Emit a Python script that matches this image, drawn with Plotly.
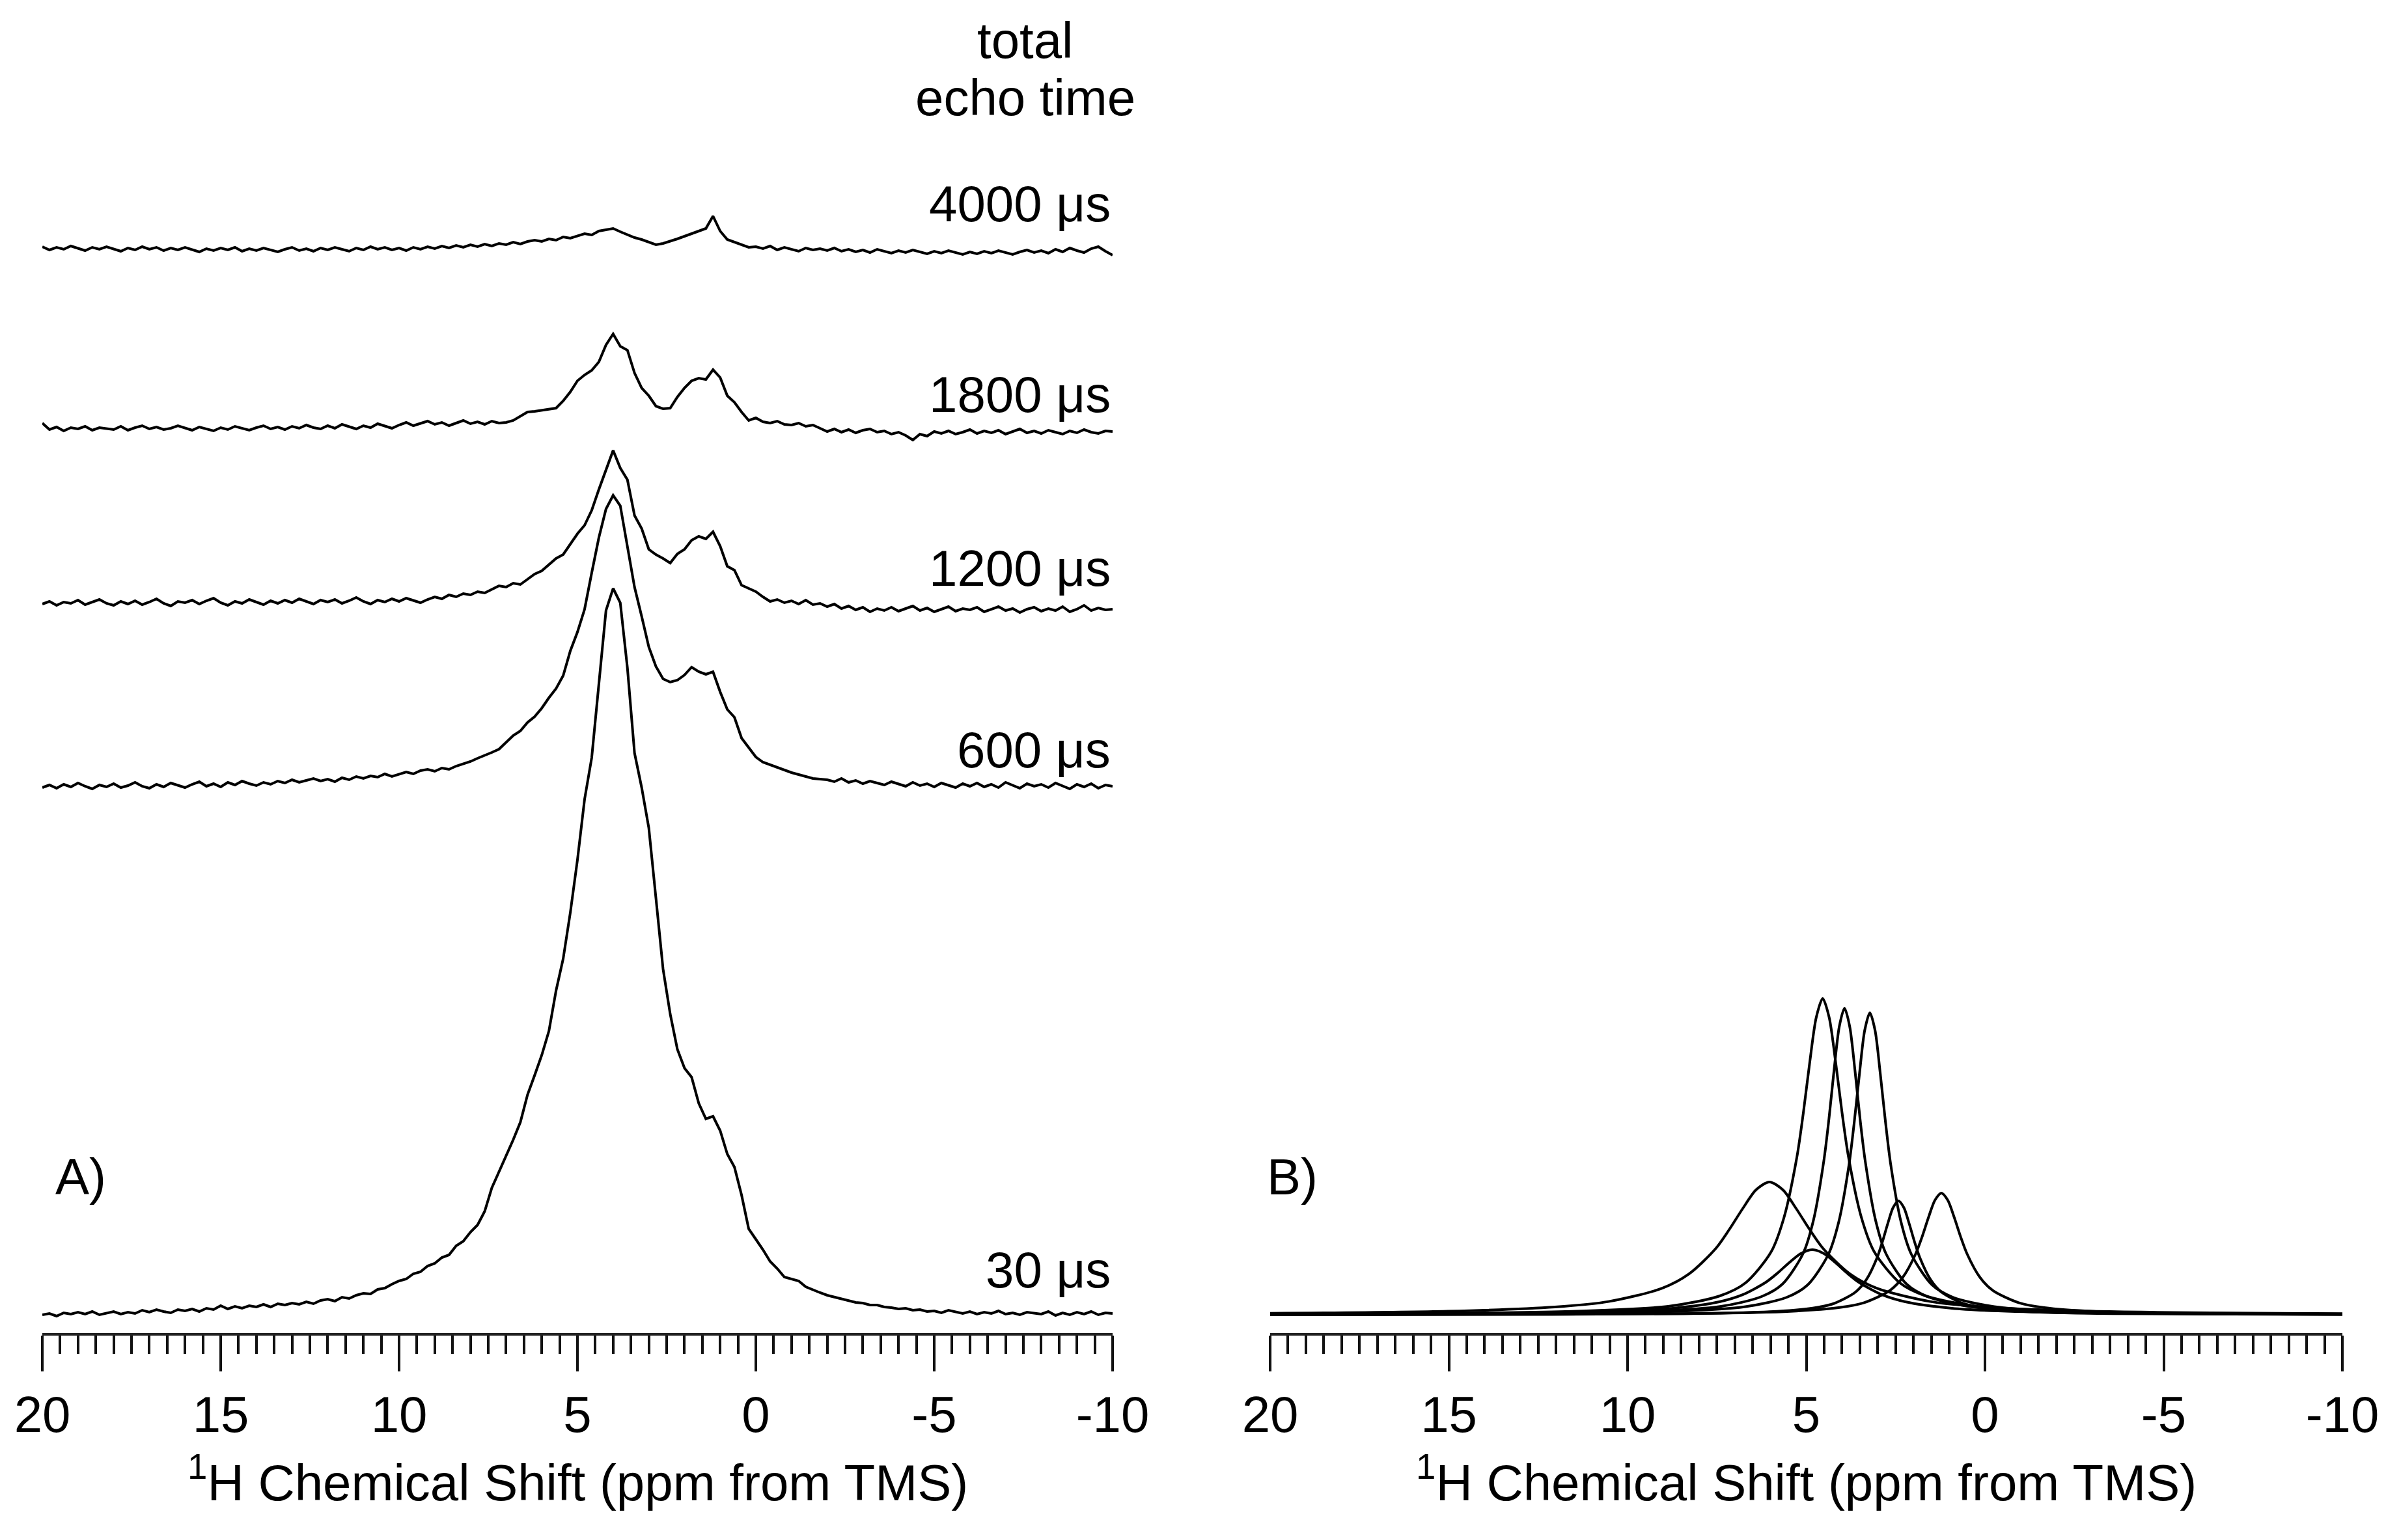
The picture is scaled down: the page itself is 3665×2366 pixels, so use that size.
import plotly.graph_objects as go

# ---------------- data ----------------
# chemical-shift sampling grid (ppm), 20 -> -10 in 0.2 ppm steps
PPM = [round(20 - 0.2 * i, 1) for i in range(151)]

ECHO_LABELS = ["30 μs", "600 μs", "1200 μs", "1800 μs", "4000 μs"]
# vertical stacking offsets of the spectra (plot units)
OFFSETS = [28, 840, 1115, 1390, 1665]

S30 = [0, 2, -2, 3, 1, 4, 1, 5, 0, 3,
       5, 1, 4, 2, 7, 4, 8, 5, 3, 8,
       6, 9, 5, 10, 8, 14, 9, 13, 10, 14,
       12, 16, 12, 17, 15, 18, 16, 20, 17, 22,
       24, 21, 27, 25, 30, 33, 32, 39, 41, 47,
       52, 55, 63, 66, 75, 79, 88, 92, 106, 113,
       127, 138, 159, 195, 219, 244, 269, 296, 338, 368,
       399, 436, 498, 547, 618, 699, 792, 856, 973, 1082,
       1116, 1094, 994, 863, 810, 748, 640, 531, 462, 408,
       379, 365, 325, 301, 305, 283, 247, 227, 184, 132,
       116, 100, 82, 71, 58, 55, 52, 43, 38, 34,
       30, 27, 24, 22, 19, 18, 15, 15, 12, 11,
       9, 10, 7, 8, 5, 6, 3, 7, 4, 2,
       5, 1, 4, 2, 6, 1, 3, 0, 4, 2,
       1, 5, -1, 3, 0, 4, 1, 5, 0, 3,
       2]

S600 = [-2, 2, -3, 3, -1, 5, 0, -4, 2, -1,
        4, -2, 1, 6, 0, -3, 3, -1, 5, 1,
        -2, 3, 7, 0, 4, -1, 6, 2, 8, 4,
        1, 6, 3, 8, 5, 10, 6, 9, 12, 8,
        11, 7, 13, 10, 15, 12, 16, 14, 19, 15,
        18, 22, 19, 24, 26, 23, 28, 26, 31, 34,
        38, 43, 47, 52, 57, 68, 78, 85, 98, 107,
        120, 136, 150, 170, 208, 237, 272, 328, 382, 426,
        447, 431, 367, 306, 261, 214, 184, 165, 160, 163,
        171, 183, 176, 172, 176, 145, 118, 106, 74, 60,
        45, 37, 33, 28, 25, 21, 18, 15, 12, 11,
        10, 7, 12, 6, 9, 4, 8, 5, 2, 7,
        3, 0, 6, 1, 4, -1, 5, 2, -2, 4,
        0, 5, -1, 3, -2, 6, 1, -3, 4, 0,
        3, -2, 5, 0, -4, 3, -1, 4, -3, 2,
        0]

S1200 = [5, 9, 3, 8, 6, 11, 4, 8, 12, 6,
         3, 9, 5, 10, 4, 8, 13, 6, 2, 9,
         7, 11, 5, 10, 14, 7, 3, 9, 6, 12,
         8, 4, 10, 6, 11, 7, 13, 9, 5, 11,
         8, 12, 6, 10, 15, 9, 5, 11, 8, 13,
         9, 14, 10, 7, 12, 16, 13, 19, 16, 21,
         19, 24, 22, 27, 33, 31, 37, 35, 43, 51,
         56, 66, 75, 81, 97, 113, 126, 149, 181, 212,
         241, 214, 196, 141, 121, 89, 81, 75, 68, 82,
         89, 103, 109, 105, 116, 94, 63, 57, 34, 29,
         24, 16, 9, 12, 7, 10, 5, 11, 4, 6,
         1, 5, -2, 2, -4, 0, -7, -2, -5, 0,
         -6, -2, 2, -5, -1, -7, -3, 1, -6, -2,
         -4, 0, -7, -3, 1, -5, -2, -8, -3, 0,
         -6, -2, -5, 1, -7, -3, 3, -5, -1, -4,
         -3]

S1800 = [8, -2, 2, -4, 1, -1, 3, -3, 1, 0,
         -2, 3, -3, 1, 4, -1, 2, -2, 0, 4,
         0, -3, 2, -1, -4, 1, -2, 3, 0, -3,
         1, 4, -1, 2, -2, 3, 0, 5, 1, -1,
         4, 0, 6, 2, -1, 4, 1, 7, 3, 0,
         5, 9, 4, 7, 11, 6, 9, 4, 8, 12,
         7, 10, 6, 11, 8, 9, 12, 18, 25, 26,
         28, 30, 31, 42, 56, 73, 82, 89, 102, 128,
         145, 126, 120, 85, 62, 50, 34, 30, 31, 48,
         62, 73, 77, 75, 90, 78, 50, 40, 25, 12,
         16, 10, 8, 11, 6, 5, 8, 3, 5, 0,
         -5, -1, -6, -2, -7, -3, -1, -6, -4, -9,
         -6, -11, -18, -9, -12, -5, -8, -4, -9, -6,
         -2, -8, -4, -7, -3, -9, -5, -1, -7, -4,
         -8, -3, -6, -9, -4, -7, -2, -6, -8, -4,
         -5]

S4000 = [4, -1, 3, 0, 5, 1, -2, 3, 0, 4,
         1, -3, 2, -1, 4, 0, 3, -2, 2, -1,
         3, 0, -4, 1, -2, 2, -1, 3, -3, 1,
         -2, 2, -1, -4, 0, 3, -2, 1, -3, 2,
         -1, 3, 0, -3, 2, -1, 4, 0, 3, -1,
         2, -2, 3, 0, 4, 1, 5, 2, 6, 3,
         7, 4, 8, 5, 9, 7, 11, 8, 12, 14,
         12, 16, 14, 19, 17, 21, 24, 22, 28, 30,
         32, 27, 22, 18, 15, 11, 7, 9, 12, 16,
         20, 24, 27, 32, 51, 28, 15, 11, 6, 3,
         4, 1, 5, -1, 3, 0, -3, 2, -1, 1,
         -2, 2, -3, 0, -4, -1, -5, 0, -3, -6,
         -2, -5, -1, -4, -7, -3, -6, -2, -5, -8,
         -4, -7, -3, -6, -2, -5, -8, -4, -1, -5,
         -2, -6, 0, -4, 2, -2, -5, 1, 4, -3,
         -9]

SPECTRA = [S30, S600, S1200, S1800, S4000]

# panel B: fitted line components (ppm, intensity)
B_BASE = 28
C1_X = [20, 11.74, 8.86, 7.42, 6.70, 5.98, 5.62, 5.26, 5.08, 4.90, 4.72, 4.54, 4.36, 4.18, 4.00, 3.82, 3.46, 3.10, 2.38, 1.66, 0.22, -2.66, -10]
C1_Y = [1.0, 5, 13, 29, 49, 97, 150, 243, 311, 389, 457, 486, 457, 389, 311, 243, 150, 97, 49, 29, 13, 5, 1.2]
C2_X = [20, 9.73, 7.41, 6.25, 5.67, 5.09, 4.80, 4.51, 4.365, 4.22, 4.075, 3.93, 3.785, 3.64, 3.495, 3.35, 3.06, 2.77, 2.19, 1.61, 0.45, -1.87, -10]
C2_Y = [0.6, 4.7, 12.7, 28, 47, 94, 145, 236, 301, 377, 443, 471, 443, 377, 301, 236, 145, 94, 47, 28, 12.7, 4.7, 0.8]
C3_X = [20, 9.02, 6.70, 5.54, 4.96, 4.38, 4.09, 3.80, 3.655, 3.51, 3.365, 3.22, 3.075, 2.93, 2.785, 2.64, 2.35, 2.06, 1.48, 0.90, -0.26, -2.58, -10]
C3_Y = [0.55, 4.6, 12.5, 27, 46, 93, 143, 232, 297, 371, 437, 464, 437, 371, 297, 232, 143, 93, 46, 27, 12.5, 4.6, 0.9]
C4_X = [20, 15.03, 12.03, 10.53, 9.03, 8.28, 7.53, 7.155, 6.78, 6.405, 6.03, 5.655, 5.28, 4.905, 4.53, 3.78, 3.03, 1.53, 0.03, -2.97, -10]
C4_Y = [2.3, 5.5, 12.0, 20.4, 40.8, 62.8, 102, 131, 163, 192, 204, 192, 163, 131, 102, 62.8, 40.8, 20.4, 12.0, 5.5, 1.8]
C5_X = [20, 17.83, 12.63, 10.03, 8.73, 7.43, 6.78, 6.13, 5.805, 5.48, 5.155, 4.83, 4.505, 4.18, 3.855, 3.53, 2.88, 2.23, 0.93, -0.37, -2.97, -8.17, -10]
C5_Y = [0.73, 1.0, 2.7, 5.9, 10, 20, 30.8, 50, 64, 80, 94.1, 100, 94.1, 80, 64, 50, 30.8, 20, 10, 5.9, 2.7, 1.0, 0.76]
C6_X = [20, 14.42, 8.42, 6.02, 4.82, 4.22, 3.62, 3.32, 3.02, 2.87, 2.72, 2.57, 2.42, 2.27, 2.12, 1.97, 1.82, 1.52, 1.22, 0.62, 0.02, -1.18, -3.58, -10]
C6_Y = [0.2, 0.44, 1.7, 4.7, 10.3, 17.5, 35, 53.8, 87.5, 112, 140, 164.7, 175, 164.7, 140, 112, 87.5, 53.8, 35, 17.5, 10.3, 4.7, 1.7, 0.41]
C7_X = [20, 15.62, 8.42, 5.54, 4.10, 3.38, 2.66, 2.30, 1.94, 1.76, 1.58, 1.40, 1.22, 1.04, 0.86, 0.68, 0.50, 0.14, -0.22, -0.94, -1.66, -3.10, -5.98, -10]
C7_Y = [0.27, 0.47, 1.85, 5.05, 11.0, 18.7, 37.4, 57.5, 93.5, 119.7, 149.6, 176, 187, 176, 149.6, 119.7, 93.5, 57.5, 37.4, 18.7, 11.0, 5.05, 1.85, 0.77]
COMPONENTS = [(C1_X, C1_Y), (C2_X, C2_Y), (C3_X, C3_Y), (C4_X, C4_Y),
              (C5_X, C5_Y), (C6_X, C6_Y), (C7_X, C7_Y)]

MAJOR_TICKS = [20, 15, 10, 5, 0, -5, -10]
MAJOR_TEXT = ["20", "15", "10", "5", "0", "-5", "-10"]
MID_TICKS = list(range(20, -11, -1))
AXIS_TITLE = "<sup>1</sup>H Chemical Shift (ppm from TMS)"

# ---------------- figure ----------------
W, H = 3665, 2366
FONT = "Liberation Sans, Arial, Helvetica, sans-serif"
INK = "black"
LW = 4.0

fig = go.Figure()
for spec, off in zip(SPECTRA, OFFSETS):
    fig.add_trace(go.Scatter(x=PPM, y=[v + off for v in spec], mode="lines",
                             line=dict(color=INK, width=LW),
                             xaxis="x", yaxis="y", showlegend=False, hoverinfo="skip"))
for cx, cy in COMPONENTS:
    fig.add_trace(go.Scatter(x=cx, y=[v + B_BASE for v in cy], mode="lines",
                             line=dict(color=INK, width=LW, shape="spline", smoothing=0.8),
                             xaxis="x2", yaxis="y2", showlegend=False, hoverinfo="skip"))

dA = [57 / W, 1701 / W]
dB = [1943 / W, 3590 / W]

def main_axis(domain, anchor):
    return dict(domain=domain, anchor=anchor, range=[20, -10], autorange=False,
                showline=True, linewidth=3.5, linecolor="#222",
                ticks="outside", ticklen=55, tickwidth=3.5, tickcolor="#111",
                tickmode="array", tickvals=MAJOR_TICKS, ticktext=MAJOR_TEXT,
                tickfont=dict(family=FONT, size=78, color=INK),
                minor=dict(dtick=0.5, tick0=0, ticks="outside", ticklen=28,
                           tickwidth=3.5, tickcolor="#111", showgrid=False),
                showgrid=False, zeroline=False, automargin=False, fixedrange=True)

def mid_axis(over, anchor):
    return dict(overlaying=over, anchor=anchor, range=[20, -10], autorange=False,
                side="bottom", showline=False, ticks="outside", ticklen=42,
                tickwidth=3.5, tickcolor="#111", tickmode="array", tickvals=MID_TICKS,
                showticklabels=False, showgrid=False, zeroline=False, automargin=False)

fig.update_layout(
    width=W, height=H,
    margin=dict(l=0, r=0, t=40, b=326, autoexpand=False),
    paper_bgcolor="white", plot_bgcolor="white",
    font=dict(family=FONT, size=78, color=INK),
    xaxis=main_axis(dA, "y"),
    xaxis2=main_axis(dB, "y2"),
    xaxis3=mid_axis("x", "y"),
    xaxis4=mid_axis("x2", "y2"),
    yaxis=dict(domain=[0, 1], anchor="x", range=[0, 2000], visible=False, fixedrange=True),
    yaxis2=dict(domain=[0, 1], anchor="x2", range=[0, 2000], visible=False, fixedrange=True),
)

ann = []
# echo-time header and labels (panel A)
ann.append(dict(text="total", x=-7.55, y=1986, xref="x", yref="y",
                xanchor="center", yanchor="middle", showarrow=False))
ann.append(dict(text="echo time", x=-7.55, y=1898, xref="x", yref="y",
                xanchor="center", yanchor="middle", showarrow=False))
LABEL_Y = [97, 896, 1175, 1442, 1735]
for lab, ly in zip(ECHO_LABELS, LABEL_Y):
    ann.append(dict(text=lab, x=-9.98, y=ly, xref="x", yref="y",
                    xanchor="right", yanchor="middle", showarrow=False))
# panel letters
ann.append(dict(text="A)", x=0.011, y=0.12, xref="x domain", yref="y domain",
                xanchor="left", yanchor="middle", showarrow=False))
ann.append(dict(text="B)", x=-0.004, y=0.12, xref="x2 domain", yref="y2 domain",
                xanchor="left", yanchor="middle", showarrow=False))
# axis titles (below the axes)
for xr, yr in (("x domain", "y domain"), ("x2 domain", "y2 domain")):
    ann.append(dict(text=AXIS_TITLE, x=0.5, y=-0.112, xref=xr, yref=yr,
                    xanchor="center", yanchor="middle", showarrow=False))
fig.update_layout(annotations=ann)

fig.write_html("out.html")
